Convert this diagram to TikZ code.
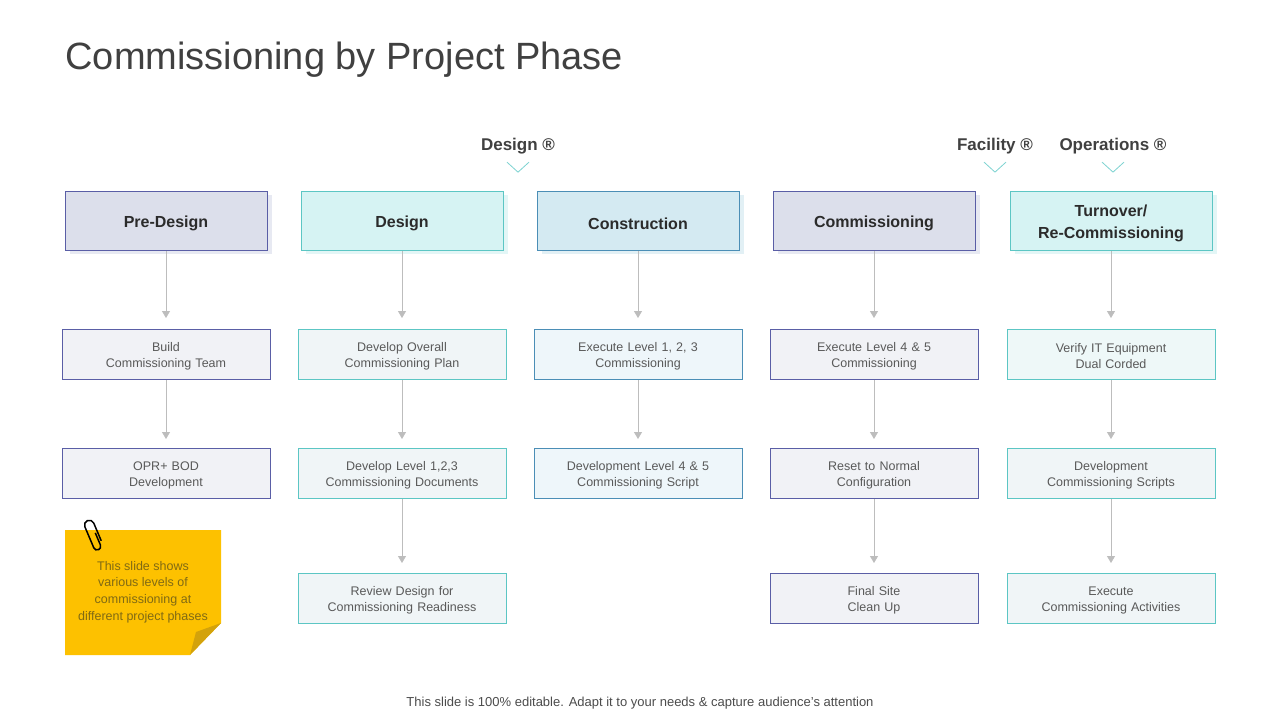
\documentclass[tikz,border=0pt]{standalone}
\usepackage{fontspec}
\setmainfont{Liberation Sans}
\usetikzlibrary{positioning,arrows.meta}

\definecolor{navyline}{HTML}{5A5EA6}
\definecolor{navyfill}{HTML}{DCDFEB}
\definecolor{navyshade}{HTML}{E7E9F2}
\definecolor{navytask}{HTML}{F1F2F6}
\definecolor{tealline}{HTML}{5CC6C4}
\definecolor{tealfill}{HTML}{D6F3F3}
\definecolor{tealshade}{HTML}{E3F6F6}
\definecolor{tealtask}{HTML}{F0F5F7}
\definecolor{tealtint}{HTML}{EEF8F8}
\definecolor{steelline}{HTML}{4B8EB6}
\definecolor{steelfill}{HTML}{D4EAF2}
\definecolor{steelshade}{HTML}{E2F0F5}
\definecolor{steeltask}{HTML}{EEF6FA}
\definecolor{txtdark}{HTML}{2B2B2B}
\definecolor{txtgrey}{HTML}{595959}
\definecolor{arrowgrey}{HTML}{BDBDBD}
\definecolor{chevcol}{HTML}{7DD3D1}
\definecolor{notefill}{HTML}{FDC100}
\definecolor{notefold}{HTML}{D3A20B}
\definecolor{notetext}{HTML}{806A14}

\begin{document}
\begin{tikzpicture}[x=1pt, y=-1pt, node distance=78pt,
  phase node/.style={draw, line width=1pt, minimum width=202pt, minimum height=59pt,
    text width=190pt, align=center, text=txtdark, font=\bfseries\fontsize{16}{22}\selectfont,
    execute at begin node={\rule{0pt}{17pt}}},
  task node/.style={draw, line width=1pt, minimum width=208pt, minimum height=50pt,
    text width=200pt, align=center, text=txtgrey, font=\fontsize{12.5}{16}\selectfont,
    execute at begin node={\rule{0pt}{13pt}}},
  navy set/.style={draw=navyline, fill=navyfill,
    preaction={fill=navyshade, transform canvas={xshift=5pt, yshift=-3pt}}},
  teal set/.style={draw=tealline, fill=tealfill,
    preaction={fill=tealshade, transform canvas={xshift=5pt, yshift=-3pt}}},
  steel set/.style={draw=steelline, fill=steelfill,
    preaction={fill=steelshade, transform canvas={xshift=5pt, yshift=-3pt}}},
  navy task/.style={task node, draw=navyline, fill=navytask},
  teal task/.style={task node, draw=tealline, fill=tealtask},
  steel task/.style={task node, draw=steelline, fill=steeltask},
  top label/.style={inner sep=2pt, text=txtdark!90, font=\bfseries\fontsize{17}{20}\selectfont},
  chev/.style={draw=chevcol, line width=0.8pt},
  flow/.style={draw=arrowgrey, line width=0.8pt, -{Triangle[width=8pt,length=7pt]}, shorten >=11pt}]

\useasboundingbox[fill=white] (0,0) rectangle (1280,720);

% title
\node[anchor=west, text=black!75, font=\fontsize{38}{40}\selectfont] (title) at (62,60) {Commissioning by Project Phase};

% phase labels
\node[top label] (lbdesign) at (518,146) {Design ®};
\node[top label] (lbfacility) at (995,146) {Facility ®};
\node[top label] (lbops) at (1113,146) {Operations ®};
\draw[chev] ([xshift=-11pt,yshift=-6pt]lbdesign.south) -- ++(11,10) -- ++(11,-10);
\draw[chev] ([xshift=-11pt,yshift=-6pt]lbfacility.south) -- ++(11,10) -- ++(11,-10);
\draw[chev] ([xshift=-11pt,yshift=-6pt]lbops.south) -- ++(11,10) -- ++(11,-10);

% phases
\node[phase node, navy set]  (pd) at (166,221) {Pre-Design};
\node[phase node, teal set]  (ds) at (402,221) {Design};
\node[phase node, steel set] (cn) at (638,221) {Construction};
\node[phase node, navy set]  (cm) at (874,221) {Commissioning};
\node[phase node, teal set]  (tr) at (1111,221) {Turnover/\\Re-Commissioning};

% first row
\node[navy task, below=of pd]  (pd1) {Build\\Commissioning Team};
\node[teal task, below=of ds]  (ds1) {Develop Overall\\Commissioning Plan};
\node[steel task, below=of cn] (cn1) {Execute Level 1, 2, 3\\Commissioning};
\node[navy task, below=of cm]  (cm1) {Execute Level 4 \& 5\\Commissioning};
\node[teal task, fill=tealtint, below=of tr] (tr1) {Verify IT Equipment\\Dual Corded};

% second row
\node[navy task, below=68pt of pd1]  (pd2) {OPR+ BOD\\Development};
\node[teal task, below=68pt of ds1]  (ds2) {Develop Level 1,2,3\\Commissioning Documents};
\node[steel task, below=68pt of cn1] (cn2) {Development Level 4 \& 5\\Commissioning Script};
\node[navy task, below=68pt of cm1]  (cm2) {Reset to Normal\\Configuration};
\node[teal task, below=68pt of tr1]  (tr2) {Development\\Commissioning Scripts};

% third row
\node[teal task, below=74pt of ds2] (ds3) {Review Design for\\Commissioning Readiness};
\node[navy task, below=74pt of cm2] (cm3) {Final Site\\Clean Up};
\node[teal task, below=74pt of tr2] (tr3) {Execute\\Commissioning Activities};

% arrows
\draw[flow] (pd) -- (pd1);
\draw[flow, shorten >=9pt] (pd1) -- (pd2);
\draw[flow] (ds) -- (ds1);
\draw[flow, shorten >=9pt] (ds1) -- (ds2);
\draw[flow, shorten >=10pt] (ds2) -- (ds3);
\draw[flow] (cn) -- (cn1);
\draw[flow, shorten >=9pt] (cn1) -- (cn2);
\draw[flow] (cm) -- (cm1);
\draw[flow, shorten >=9pt] (cm1) -- (cm2);
\draw[flow, shorten >=10pt] (cm2) -- (cm3);
\draw[flow] (tr) -- (tr1);
\draw[flow, shorten >=9pt] (tr1) -- (tr2);
\draw[flow, shorten >=10pt] (tr2) -- (tr3);

% sticky note
\fill[notefill] (65,530) -- (221,530) -- (221,623) -- (190,655) -- (65,655) -- cycle;
\fill[notefold] (221,623) -- (190,655) -- (196,632) -- cycle;
\node[align=center, text=notetext, font=\fontsize{12.5}{16.7}\selectfont] (note) at (143,592)
  {This slide shows\\various levels of\\commissioning at\\different project phases};
\begin{scope}[shift={(94,536)}, rotate=23, scale=1.2]
  \draw[black, line width=1.5pt] (2,-2) -- (2,9) arc[start angle=0, end angle=180, radius=3]
    -- (-4,-10) arc[start angle=180, end angle=360, radius=4] -- (4,6);
\end{scope}

% footer
\node[text=black!70, font=\fontsize{13}{15}\selectfont] (foot) at (640,703)
  {This slide is 100\% editable. Adapt it to your needs \& capture audience’s attention};
\end{tikzpicture}
\end{document}
